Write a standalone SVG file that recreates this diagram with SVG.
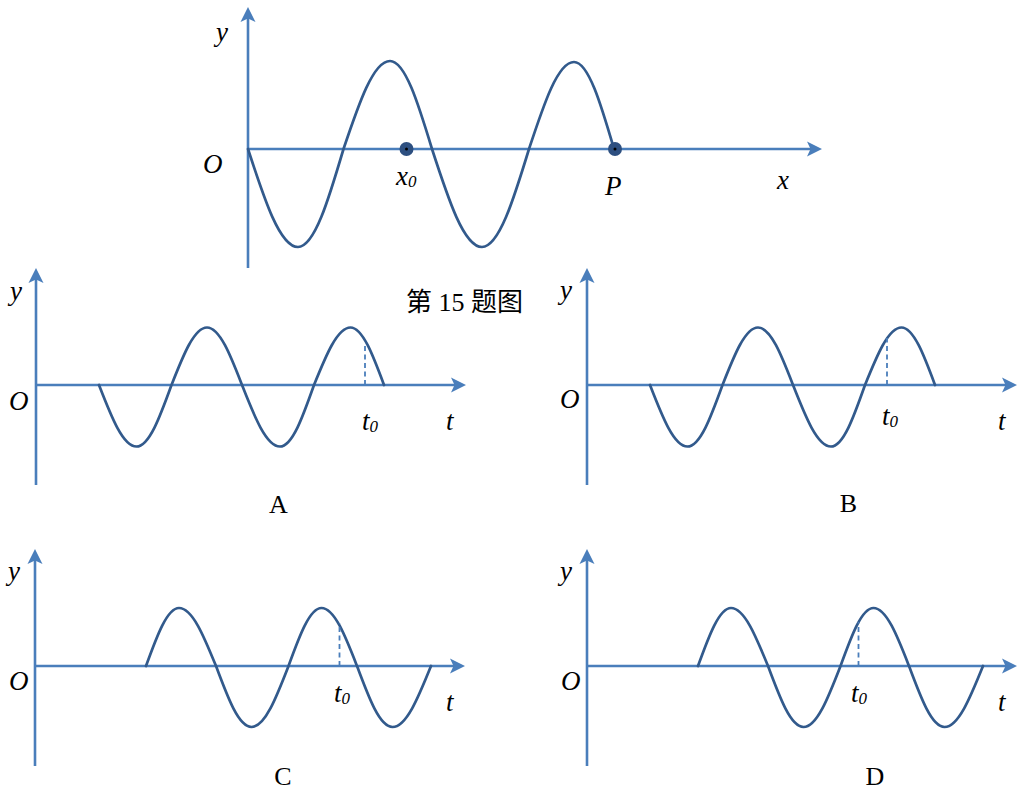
<svg xmlns="http://www.w3.org/2000/svg" xmlns:xlink="http://www.w3.org/1999/xlink" width="1017" height="798" viewBox="0 0 1017 798">
<style>
.ax{stroke:#4A7EBB;stroke-width:2.6;fill:none;marker-end:url(#arr)}
.wv{stroke:#325A8C;stroke-width:2.7;fill:none;stroke-linejoin:round;stroke-linecap:round}
.ds{stroke:#4A7EBB;stroke-width:1.8;stroke-dasharray:5,3.5;fill:none}
.it{font-family:"Liberation Serif","Times New Roman",serif;font-style:italic;font-size:27px;fill:#000}
.sb{font-size:17px}
.cap{font-family:"Liberation Serif","Times New Roman",serif;font-size:26px;fill:#000;text-anchor:middle}
.cn{font-family:"Liberation Serif","Noto Sans CJK SC",serif;font-size:26px;fill:#000}
</style>
<defs>
<marker id="arr" markerUnits="userSpaceOnUse" markerWidth="16" markerHeight="16" refX="7" refY="7.5" orient="auto" overflow="visible">
<path d="M0,0 L15,7.5 L0,15 L3.5,7.5 Z" fill="#4A7EBB"/>
</marker>
<path id="waveAB" d="M63,0 C75.2,31.5 86.9,61.5 100.5,61.5 C113.2,61.5 124.1,31.5 135.5,0 C147.1,-29.4 158.1,-57.5 171,-57.5 C183.7,-57.5 194.6,-29.4 206,0 C218.4,31.5 230.2,61.5 244,61.5 C256.3,61.5 266.9,31.5 278,0 C289.9,-29.4 301.3,-57.5 314.5,-57.5 C326.6,-57.5 337.1,-29.4 348,0"/>
<path id="waveCD" d="M111,0 C121.8,-29.7 132.1,-58 144,-58 C157.4,-58 168.9,-29.7 181,0 C192.6,31.2 203.6,61 216.5,61 C229.9,61 241.4,31.2 253.5,0 C264.3,-29.7 274.6,-58 286.5,-58 C299.4,-58 310.4,-29.7 322,0 C333.6,31.2 344.6,61 357.5,61 C371.4,61 383.4,31.2 396,0"/>
<g id="axesSmall">
<line class="ax" x1="0" y1="100" x2="0" y2="-109"/>
<line class="ax" x1="0" y1="0" x2="422" y2="0"/>
</g>
</defs>

<g id="connectors">
<line class="ax" x1="248" y1="268" x2="248" y2="15"/>
<line class="ax" x1="248" y1="149" x2="814" y2="149"/>
<use xlink:href="#axesSmall" transform="translate(36,385)"/>
<use xlink:href="#axesSmall" transform="translate(587,385)"/>
<use xlink:href="#axesSmall" transform="translate(35,666)"/>
<use xlink:href="#axesSmall" transform="translate(587,666)"/>
</g>

<g id="main-graph">
<path class="wv" d="M248,149 C264.3,199.2 279.9,247 298,247 C314.5,247 328.7,199.2 343.5,149 C358.7,103.9 373.2,61 390,61 C405.2,61 418.3,103.9 432,149 C448.3,199.2 463.9,247 482,247 C499,247 513.7,199.2 529,149 C543.7,104.5 557.7,62 574,62 C588.5,62 601,104.5 614,149"/>
<circle cx="406.5" cy="149" r="7" fill="#2D4F80"/>
<circle cx="406.5" cy="149" r="1.5" fill="#000"/>
<circle cx="615" cy="149" r="7" fill="#2D4F80"/>
<circle cx="615" cy="149" r="1.5" fill="#000"/>
<text class="it" x="216" y="41">y</text>
<text class="it" x="203" y="173">O</text>
<text class="it" x="396" y="185">x<tspan class="sb" dy="2">0</tspan></text>
<text class="it" x="605" y="195">P</text>
<text class="it" x="777" y="189">x</text>
<text class="cn" x="406" y="311">第 15 题图</text>
</g>

<g id="graph-A">
<use xlink:href="#waveAB" class="wv" transform="translate(36,385)"/>
<line class="ds" x1="365" y1="385" x2="365" y2="343"/>
<text class="it" x="10" y="300">y</text>
<text class="it" x="9" y="410">O</text>
<text class="it" x="362" y="430">t<tspan class="sb" dy="2">0</tspan></text>
<text class="it" x="446" y="430">t</text>
<text class="cap" x="278.5" y="513">A</text>
</g>

<g id="graph-B">
<use xlink:href="#waveAB" class="wv" transform="translate(587,385)"/>
<line class="ds" x1="887" y1="385" x2="887" y2="338"/>
<text class="it" x="560" y="299">y</text>
<text class="it" x="560" y="408">O</text>
<text class="it" x="882" y="425">t<tspan class="sb" dy="2">0</tspan></text>
<text class="it" x="998" y="430">t</text>
<text class="cap" x="848.5" y="512">B</text>
</g>

<g id="graph-C">
<use xlink:href="#waveCD" class="wv" transform="translate(35,666)"/>
<line class="ds" x1="339.5" y1="666" x2="339.5" y2="623"/>
<text class="it" x="8" y="580">y</text>
<text class="it" x="9" y="690">O</text>
<text class="it" x="334" y="702">t<tspan class="sb" dy="2">0</tspan></text>
<text class="it" x="446" y="711">t</text>
<text class="cap" x="283" y="785">C</text>
</g>

<g id="graph-D">
<use xlink:href="#waveCD" class="wv" transform="translate(587,666)"/>
<line class="ds" x1="858.5" y1="666" x2="858.5" y2="622"/>
<text class="it" x="560" y="580">y</text>
<text class="it" x="561" y="690">O</text>
<text class="it" x="851" y="702">t<tspan class="sb" dy="2">0</tspan></text>
<text class="it" x="998" y="711">t</text>
<text class="cap" x="875" y="785">D</text>
</g>
</svg>
